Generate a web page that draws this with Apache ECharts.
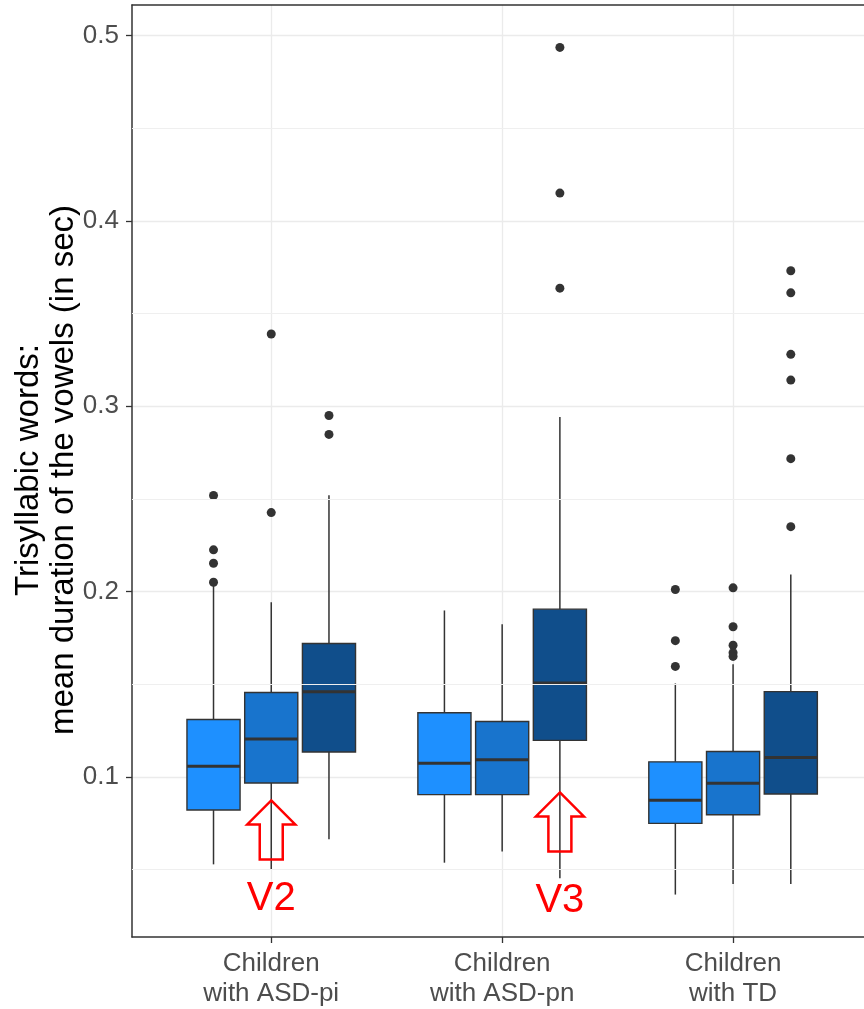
<!DOCTYPE html>
<html>
<head>
<meta charset="utf-8">
<script src="https://cdn.jsdelivr.net/npm/echarts@6/dist/echarts.min.js"></script>
<style>
html,body{margin:0;padding:0;background:#fff;}
#chart{width:864px;height:1009px;}
</style>
</head>
<body>
<div id="chart"></div>
<script>
// ---- data ----
const categories = ['Children\nwith ASD-pi', 'Children\nwith ASD-pn', 'Children\nwith TD'];
const vowels = ['V1', 'V2', 'V3'];
const yTicks = [0.1, 0.2, 0.3, 0.4, 0.5];
const yMinorLines = [0.05, 0.15, 0.25, 0.35, 0.45];
// [min whisker, Q1, median, Q3, max whisker] per category
const v1Box = [[0.0528, 0.0821, 0.1057, 0.1310, 0.2030], [0.0537, 0.0904, 0.1074, 0.1346, 0.1898], [0.0365, 0.0749, 0.0874, 0.1081, 0.1504]];
const v2Box = [[0.0498, 0.0967, 0.1204, 0.1455, 0.1942], [0.0598, 0.0904, 0.1093, 0.1299, 0.1824], [0.0422, 0.0796, 0.0966, 0.1137, 0.1608]];
const v3Box = [[0.0663, 0.1134, 0.1459, 0.1720, 0.2519], [0.0453, 0.1197, 0.1506, 0.1905, 0.2942], [0.0422, 0.0908, 0.1105, 0.1460, 0.2092]];
const v1Out = [[0.2518, 0.2225, 0.2153, 0.2050], [], [0.2011, 0.1735, 0.1596]];
const v2Out = [[0.3390, 0.2426], [], [0.2020, 0.1810, 0.1710, 0.1670, 0.1650]];
const v3Out = [[0.2950, 0.2848], [0.4936, 0.4150, 0.3637], [0.3731, 0.3612, 0.3280, 0.3141, 0.2717, 0.2350]];
// annotations: [category index, vowel index, arrow tip value, label value, label]
const annotations = [[0, 1, 0.0873, 0.0340, 'V2'], [1, 2, 0.0916, 0.0329, 'V3']];

const boxes = [v1Box, v2Box, v3Box];
const outs = [v1Out, v2Out, v3Out];
const colors = ['#1E90FF', '#1874CD', '#104E8B'];
const dodge = 0.25, boxW = 0.23;
const offs = k => (k - 1) * dodge;
const X_MIN = 0.397, X_MAX = 3.567;

const series = [];
boxes.forEach((b, k) => {
  series.push({
    type: 'custom', name: vowels[k], z: 3,
    data: b.map((s, g) => [g + 1, ...s]),
    encode: { x: 0, y: [1, 2, 3, 4, 5] },
    renderItem: function (params, api) {
      const xc = api.value(0) + offs(k);
      const pMin = api.coord([xc, api.value(1)]);
      const pQ1 = api.coord([xc, api.value(2)]);
      const pMed = api.coord([xc, api.value(3)]);
      const pQ3 = api.coord([xc, api.value(4)]);
      const pMax = api.coord([xc, api.value(5)]);
      const w = api.size([boxW, 0])[0];
      const cx = pMed[0];
      const ls = { stroke: '#333333', lineWidth: 1.5 };
      return { type: 'group', children: [
        { type: 'line', shape: { x1: cx, y1: pMax[1], x2: cx, y2: pQ3[1] }, style: ls },
        { type: 'line', shape: { x1: cx, y1: pQ1[1], x2: cx, y2: pMin[1] }, style: ls },
        { type: 'rect', shape: { x: cx - w / 2, y: pQ3[1], width: w, height: pQ1[1] - pQ3[1] },
          style: { fill: colors[k], stroke: '#333333', lineWidth: 1.4 } },
        { type: 'line', shape: { x1: cx - w / 2, y1: pMed[1], x2: cx + w / 2, y2: pMed[1] },
          style: { stroke: '#333333', lineWidth: 3 } }
      ] };
    }
  });
  const pts = [];
  outs[k].forEach((arr, g) => arr.forEach(v => pts.push([g + 1 + offs(k), v])));
  series.push({
    type: 'scatter', z: 4, data: pts, symbol: 'circle', symbolSize: 9,
    itemStyle: { color: '#333333', opacity: 1 }
  });
});
// minor grid lines
series.push({
  type: 'line', z: 1, data: [], silent: true,
  markLine: {
    silent: true, symbol: ['none', 'none'], label: { show: false }, animation: false,
    lineStyle: { color: '#EFEFEF', width: 1, type: 'solid' },
    data: yMinorLines.map(v => ({ yAxis: v }))
  }
});
// annotations (red arrows + labels)
series.push({
  type: 'custom', z: 6, silent: true,
  data: annotations.map(a => [a[0] + 1 + offs(a[1]), a[2], a[3]]),
  encode: { x: 0, y: 1 },
  renderItem: function (params, api) {
    const tip = api.coord([api.value(0), api.value(1)]);
    const lab = api.coord([api.value(0), api.value(2)]);
    const x = tip[0], y = tip[1];
    const pts = [[x, y], [x + 24, y + 24], [x + 11.5, y + 24], [x + 11.5, y + 59], [x - 11.5, y + 59], [x - 11.5, y + 24], [x - 24, y + 24]];
    return { type: 'group', children: [
      { type: 'polygon', shape: { points: pts }, style: { fill: 'none', stroke: '#FF0000', lineWidth: 2.5 } },
      { type: 'text', x: lab[0], y: lab[1], style: { text: annotations[params.dataIndex][4], fill: '#FF0000',
        font: '40px "Liberation Sans", Arial, sans-serif', align: 'center', verticalAlign: 'middle' } }
    ] };
  }
});

const borderLine = { show: true, onZero: false, lineStyle: { color: '#333333', width: 1.5 } };
const chart = echarts.init(document.getElementById('chart'), null, { renderer: 'canvas' });
chart.setOption({
  animation: false,
  backgroundColor: '#ffffff',
  grid: { left: 132, right: 0, top: 5, bottom: 71, show: false },
  xAxis: [{
    type: 'value', min: X_MIN, max: X_MAX, position: 'bottom',
    axisLine: borderLine,
    axisTick: { show: true, length: 6, lineStyle: { color: '#333333', width: 1.3 }, customValues: [1, 2, 3] },
    axisLabel: { customValues: [1, 2, 3], formatter: v => categories[Math.round(v) - 1] || '',
      color: '#4D4D4D', fontSize: 26, fontFamily: '"Liberation Sans", Arial, sans-serif', lineHeight: 30, margin: 12 },
    splitLine: { show: true, lineStyle: { color: '#EBEBEB', width: 1.3 } }
  }, {
    type: 'value', min: X_MIN, max: X_MAX, position: 'top',
    axisLine: borderLine, axisTick: { show: false }, axisLabel: { show: false }, splitLine: { show: false }
  }],
  yAxis: {
    type: 'value', min: 0.0136, max: 0.5165,
    axisLine: borderLine,
    axisTick: { show: true, length: 6, lineStyle: { color: '#333333', width: 1.3 }, customValues: yTicks },
    axisLabel: { customValues: yTicks, formatter: v => v.toFixed(1),
      color: '#4D4D4D', fontSize: 26, fontFamily: '"Liberation Sans", Arial, sans-serif', margin: 13 },
    splitLine: { show: true, lineStyle: { color: '#EBEBEB', width: 1.3 } }
  },
  graphic: [{
    type: 'text', x: 46, y: 470, rotation: Math.PI / 2,
    style: { text: 'Trisyllabic words:\nmean duration of the vowels (in sec)', fill: '#000000',
      font: '33px "Liberation Sans", Arial, sans-serif', align: 'center', verticalAlign: 'middle', lineHeight: 35 }
  }],
  series: series
});
</script>
</body>
</html>
